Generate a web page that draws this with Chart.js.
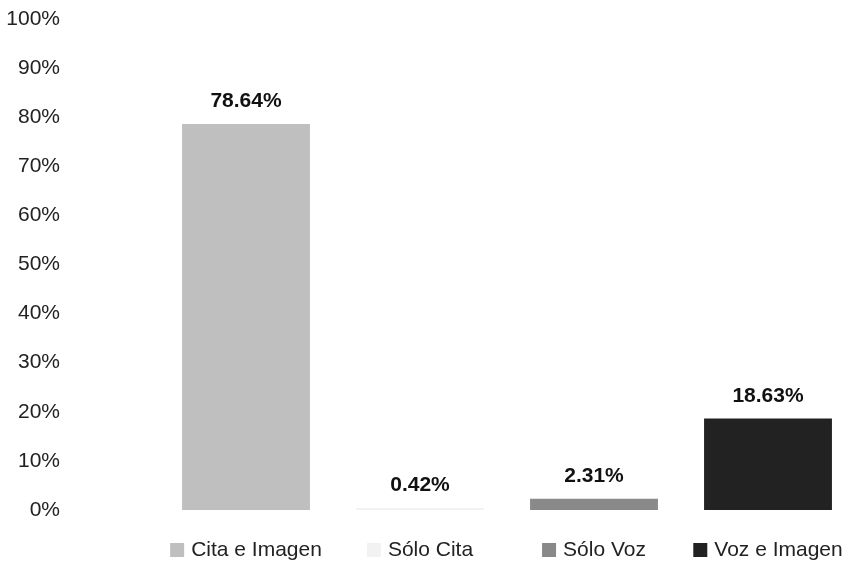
<!DOCTYPE html>
<html>
<head>
<meta charset="utf-8">
<script src="https://cdn.jsdelivr.net/npm/chart.js@4"></script>
<style>
  html, body { margin: 0; padding: 0; background: #fff; }
  #wrap { width: 860px; height: 562px; }
</style>
</head>
<body>
<div id="wrap"><canvas id="chart" width="860" height="562"></canvas></div>
<script>
const categorias = ['Cita e Imagen', 'Sólo Cita', 'Sólo Voz', 'Voz e Imagen'];
const porcentajes = [78.64, 0.42, 2.31, 18.63];
const etiquetas = ['78.64%', '0.42%', '2.31%', '18.63%'];
const colores = ['#bfbfbf', '#f2f2f2', '#898989', '#222222'];

const FUENTE = '"Liberation Sans Narrow", "Arial Narrow", "Liberation Sans", Arial, sans-serif';

// etiquetas de valor encima de cada barra
const valoresPlugin = {
  id: 'valores',
  afterDatasetsDraw(chart) {
    const ctx = chart.ctx;
    const meta = chart.getDatasetMeta(0);
    ctx.save();
    ctx.font = 'bold 21px ' + FUENTE;
    ctx.fillStyle = '#111';
    ctx.textAlign = 'center';
    ctx.textBaseline = 'alphabetic';
    meta.data.forEach((bar, i) => {
      ctx.fillText(etiquetas[i], bar.x, bar.y - 17);
    });
    ctx.restore();
  }
};

// leyenda bajo cada barra, con su cuadrito de color
const leyendaPlugin = {
  id: 'leyenda',
  afterDraw(chart) {
    const ctx = chart.ctx;
    const x = chart.scales.x;
    const base = chart.chartArea.bottom + 46;
    ctx.save();
    ctx.font = '21px ' + FUENTE;
    ctx.textBaseline = 'alphabetic';
    ctx.textAlign = 'left';
    categorias.forEach((c, i) => {
      const w = ctx.measureText(c).width;
      const total = 14 + 7 + w;
      const cx = x.getPixelForValue(i);
      const x0 = cx - total / 2;
      ctx.fillStyle = colores[i];
      ctx.fillRect(x0, base - 13, 14, 14);
      ctx.fillStyle = '#222';
      ctx.fillText(c, x0 + 21, base);
    });
    ctx.restore();
  }
};

new Chart(document.getElementById('chart').getContext('2d'), {
  type: 'bar',
  data: {
    labels: categorias,
    datasets: [{
      data: porcentajes,
      backgroundColor: colores,
      borderWidth: 0,
      categoryPercentage: 1,
      barPercentage: 0.735
    }]
  },
  options: {
    responsive: false,
    animation: false,
    layout: { padding: { top: 19, left: 6, right: 5, bottom: 52 } },
    plugins: {
      legend: { display: false },
      tooltip: { enabled: false }
    },
    scales: {
      x: {
        grid: { display: false, drawTicks: false },
        border: { display: false },
        ticks: { display: false }
      },
      y: {
        min: 0,
        max: 100,
        grid: { display: false, drawTicks: false },
        border: { display: false },
        afterFit(scale) {
          scale.width = 153;
          scale.paddingTop = 0;
          scale.paddingBottom = 0;
        },
        ticks: {
          stepSize: 10,
          padding: 99,
          color: '#222',
          font: { family: FUENTE, size: 21 },
          callback: v => v + '%'
        }
      }
    }
  },
  plugins: [valoresPlugin, leyendaPlugin]
});
</script>
</body>
</html>
